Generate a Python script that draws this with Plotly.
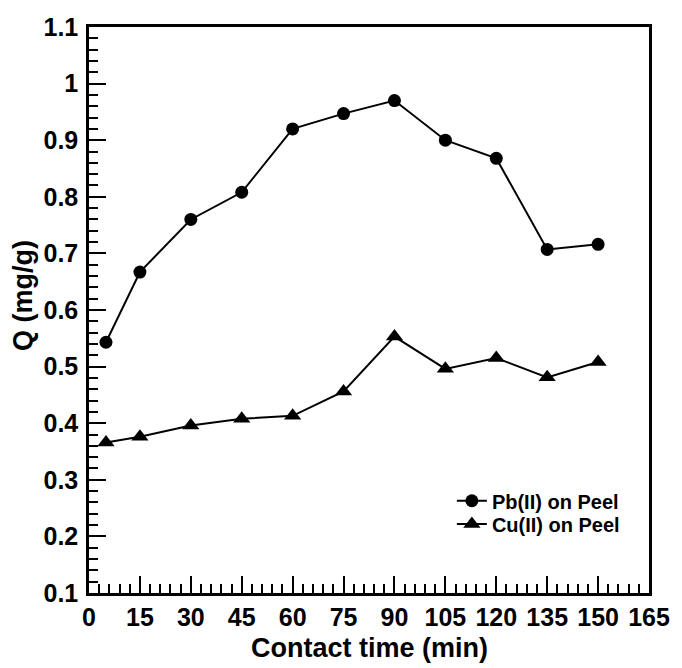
import plotly.graph_objects as go

time_min = [5, 15, 30, 45, 60, 75, 90, 105, 120, 135, 150]
pb_q = [0.543, 0.667, 0.760, 0.808, 0.920, 0.947, 0.970, 0.900, 0.868, 0.707, 0.716]
cu_q = [0.366, 0.376, 0.396, 0.408, 0.413, 0.456, 0.553, 0.496, 0.515, 0.481, 0.508]
series_names = ["Pb(II) on Peel", "Cu(II) on Peel"]
x_title = "Contact time (min)"
y_title = "Q (mg/g)"

FONT = "Liberation Sans, Arial, sans-serif"

fig = go.Figure()
fig.add_trace(go.Scatter(
    x=time_min, y=pb_q, mode="lines+markers", name=series_names[0],
    line=dict(color="black", width=2),
    marker=dict(symbol="circle", size=13, color="black"),
    legend="legend",
))
fig.add_trace(go.Scatter(
    x=time_min, y=cu_q, mode="lines+markers", name=series_names[1],
    line=dict(color="black", width=2),
    marker=dict(symbol="triangle-up", size=15, color="black"),
    legend="legend2",
))

axis_common = dict(
    showline=True, linecolor="black", linewidth=2.5, mirror=True,
    ticks="inside", ticklen=17, tickwidth=2, tickcolor="black",
    showgrid=False, zeroline=False,
    tickfont=dict(family=FONT, size=25, color="black", weight="bold"),
)

fig.update_xaxes(
    range=[0, 165], tick0=0, dtick=15,
    minor=dict(ticks="inside", dtick=3, ticklen=9, tickwidth=1.5, tickcolor="black", showgrid=False),
    **axis_common,
)
fig.update_yaxes(
    range=[0.1, 1.1], tick0=0.1, dtick=0.1, ticklabelstandoff=3,
    minor=dict(ticks="inside", dtick=0.02, ticklen=9, tickwidth=1.5, tickcolor="black", showgrid=False),
    **axis_common,
)

legend_common = dict(
    font=dict(family=FONT, size=20, color="black", weight="bold"),
    bgcolor="rgba(0,0,0,0)", borderwidth=0,
    xanchor="left", yanchor="middle", itemwidth=30,
)

fig.update_layout(
    width=682, height=668,
    margin=dict(l=89, r=27, t=27, b=75),
    plot_bgcolor="white", paper_bgcolor="white",
    showlegend=True,
    legend=dict(x=0.648, y=0.163, **legend_common),
    legend2=dict(x=0.648, y=0.122, **legend_common),
    annotations=[
        dict(text=x_title, xref="paper", yref="paper", x=0.5, y=-0.097,
             xanchor="center", yanchor="middle", showarrow=False,
             font=dict(family=FONT, size=27, color="black", weight="bold")),
        dict(text=y_title, xref="paper", yref="paper", x=-0.118, y=0.5265,
             xanchor="center", yanchor="middle", showarrow=False, textangle=-90,
             font=dict(family=FONT, size=27, color="black", weight="bold")),
    ],
)

fig.write_html("out.html")
